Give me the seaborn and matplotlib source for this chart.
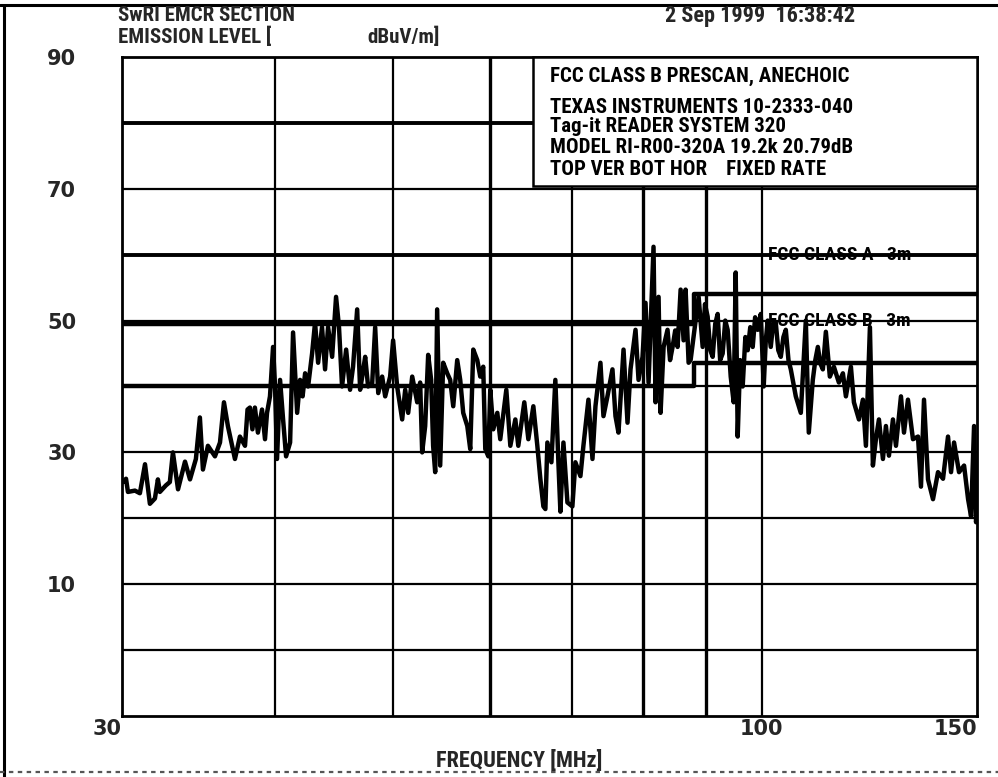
import matplotlib
matplotlib.use("Agg")
import matplotlib.pyplot as plt
from matplotlib import font_manager as fm
from matplotlib.patches import Rectangle
from matplotlib.lines import Line2D
import seaborn as sns

# ---- measured emission sweep (MHz, dBuV/m) ----
freq_mhz = [
    30.06, 30.23, 30.34, 30.74, 31.03, 31.33, 31.62, 31.92, 32.10, 32.22,
    32.59, 32.83, 33.02, 33.34, 33.78, 34.10, 34.48, 34.74, 34.94, 35.27,
    35.74, 36.08, 36.35, 36.62, 37.11, 37.46, 37.82, 38.00, 38.17, 38.35,
    38.53, 38.75, 39.05, 39.27, 39.42, 39.64, 39.87, 40.02, 40.17, 40.40,
    40.63, 40.86, 41.17, 41.40, 41.72, 41.95, 42.15, 42.35, 42.59, 42.91,
    43.15, 43.40, 43.72, 43.97, 44.22, 44.56, 44.89, 45.14, 45.40, 45.75,
    46.09, 46.35, 46.71, 46.97, 47.20, 47.42, 47.68, 48.05, 48.32, 48.60,
    48.96, 49.24, 49.70, 49.98, 50.36, 50.84, 51.13, 51.42, 51.81, 52.30,
    52.59, 52.79, 53.09, 53.39, 53.69, 53.89, 54.10, 54.30, 54.61, 54.92,
    55.34, 55.65, 55.97, 56.39, 56.71, 57.03, 57.47, 57.79, 58.12, 58.56,
    58.89, 59.22, 59.45, 59.79, 60.01, 60.35, 60.81, 61.15, 61.85, 62.32,
    62.91, 63.26, 63.98, 64.47, 65.08, 65.57, 65.94, 66.32, 66.57, 66.82,
    67.33, 67.83, 68.22, 68.48, 68.87, 69.39, 70.04, 70.44, 71.11, 71.51,
    72.19, 72.74, 73.15, 73.84, 74.26, 74.82, 75.53, 75.96, 76.39, 77.12,
    77.70, 78.14, 78.88, 79.33, 79.93, 80.38, 80.84, 81.60, 81.91, 82.38,
    82.69, 83.16, 83.78, 84.18, 84.58, 85.00, 85.38, 85.87, 86.35, 86.68,
    87.17, 87.50, 88.33, 88.83, 89.51, 89.90, 90.35, 90.80, 91.21, 91.65,
    92.07, 92.50, 92.94, 93.40, 93.82, 94.36, 94.89, 95.25, 95.61, 96.05,
    96.51, 97.00, 97.43, 97.90, 98.35, 98.80, 99.28, 99.85, 100.41, 100.80,
    101.17, 101.75, 102.20, 102.71, 103.20, 103.69, 104.20, 104.67, 105.20, 105.66,
    106.66, 107.67, 108.69, 109.30, 110.13, 110.65, 111.18, 111.70, 112.23, 112.87,
    113.72, 114.59, 115.67, 116.55, 117.21, 118.32, 118.99, 120.12, 121.02, 121.71,
    122.63, 123.32, 124.02, 124.73, 125.67, 126.38, 127.10, 128.06, 128.79, 130.01,
    130.75, 131.73, 132.98, 134.25, 135.00, 135.77, 136.80, 138.09, 139.40, 140.72,
    142.05, 142.86, 143.67, 145.03, 146.41, 147.52, 148.35, 149.19, 149.75, 150.00,
]
level_dbuv = [
    25.5, 26.0, 24.0, 24.2, 23.8, 28.2, 22.2, 23.0, 25.9, 24.0,
    25.0, 25.5, 30.0, 24.4, 28.6, 25.9, 29.0, 35.3, 27.4, 31.0,
    29.4, 31.5, 37.6, 34.0, 29.0, 32.4, 31.0, 36.5, 36.8, 33.5,
    36.8, 33.0, 36.5, 32.0, 36.0, 38.5, 46.0, 40.0, 29.0, 41.0,
    35.0, 29.4, 31.5, 48.2, 36.0, 41.0, 38.5, 42.0, 40.0, 45.0,
    49.7, 43.6, 49.0, 42.6, 49.0, 44.5, 53.6, 49.0, 40.0, 45.6,
    39.5, 43.0, 51.7, 39.5, 42.0, 44.5, 40.0, 40.5, 49.0, 39.0,
    41.5, 38.5, 41.5, 47.0, 40.0, 35.0, 39.5, 36.0, 41.5, 37.6,
    40.6, 30.0, 34.0, 44.8, 41.0, 31.0, 27.0, 51.7, 28.0, 43.6,
    42.0, 41.0, 37.0, 44.0, 41.0, 36.0, 34.0, 30.5, 45.6, 44.0,
    41.5, 43.0, 30.5, 29.4, 39.5, 33.5, 36.0, 32.0, 39.5, 31.0,
    35.0, 31.0, 37.6, 32.0, 37.0, 31.0, 26.0, 21.8, 21.4, 31.5,
    28.5, 41.0, 28.5, 21.0, 31.5, 22.4, 21.8, 28.5, 26.4, 31.0,
    38.0, 29.0, 37.0, 43.6, 35.5, 38.5, 42.6, 35.5, 33.0, 45.6,
    34.5, 42.6, 48.6, 41.0, 44.5, 52.7, 40.6, 61.2, 37.6, 53.6,
    36.0, 46.0, 48.6, 44.0, 46.0, 48.5, 46.0, 54.7, 47.0, 54.7,
    43.6, 44.0, 50.0, 53.6, 46.0, 52.5, 50.6, 45.5, 44.5, 49.5,
    51.0, 44.0, 45.0, 50.0, 48.6, 41.5, 37.6, 57.3, 32.4, 44.0,
    40.0, 47.5, 45.5, 49.0, 46.0, 50.5, 48.6, 51.0, 40.0, 47.0,
    50.0, 46.0, 49.5, 49.7, 45.5, 44.5, 47.5, 48.6, 44.0, 42.6,
    38.5, 36.0, 50.0, 33.0, 41.0, 44.0, 46.0, 43.5, 42.6, 48.3,
    41.5, 43.0, 40.6, 42.0, 38.5, 43.0, 37.6, 35.0, 38.0, 31.0,
    49.0, 28.0, 32.0, 35.0, 29.0, 34.0, 29.5, 35.0, 31.0, 38.5,
    33.0, 38.0, 32.0, 32.4, 24.8, 38.0, 25.9, 22.9, 27.0, 26.0,
    32.4, 27.0, 31.5, 27.0, 28.0, 22.9, 20.3, 34.0, 19.4, 21.0,
]

# ---- FCC 3 m radiated limits ----
limit_freq = [30, 88, 150]
class_a_3m = [49.5, 54.0, 54.0]
class_b_3m = [40.0, 43.5, 43.5]

# ---- axis description ----
x_ticks = [30, 100, 150]
x_tick_labels = ["30", "100", "150"]
x_grid = [40, 50, 60, 70, 80, 90, 100]
y_ticks = [90, 70, 50, 30, 10]
y_grid = [80, 70, 60, 50, 40, 30, 20, 10, 0]

header_left = ["SwRI EMCR SECTION", "EMISSION LEVEL [", "dBuV/m]"]
header_date = "2 Sep 1999  16:38:42"
info_lines = [
    "FCC CLASS B PRESCAN, ANECHOIC",
    "TEXAS INSTRUMENTS 10-2333-040",
    "Tag-it READER SYSTEM 320",
    "MODEL RI-R00-320A 19.2k 20.79dB",
    "TOP VER BOT HOR    FIXED RATE",
]
limit_labels = ["FCC CLASS A   3m", "FCC CLASS B   3m"]
x_label = "FREQUENCY [MHz]"

sns.set_theme(style="white")


def pick_font(*names):
    available = {f.name for f in fm.fontManager.ttflist}
    for name in names:
        if name in available:
            return name
    return "DejaVu Sans"


NARROW = pick_font("Liberation Sans Narrow", "Roboto Condensed", "DejaVu Sans")
plt.rcParams["font.family"] = [NARROW, "DejaVu Sans"]

fig = plt.figure(figsize=(9.98, 7.77), dpi=100)
ax = fig.add_axes([0.1222, 0.0785, 0.8567, 0.8482])
ax.set_xscale("log")
ax.set_xlim(30, 150)
ax.set_ylim(-10, 90)

# grid, drawn by hand so individual lines can carry their own weight
for f in x_grid:
    lw = 2.4 if f in (60, 80, 90) else 1.6
    ax.axvline(f, color="black", lw=lw, zorder=1)
for v in y_grid:
    lw = 2.8 if v in (80, 60) else 1.6
    ax.axhline(v, color="black", lw=lw, zorder=1)

# limit lines
sns.lineplot(x=limit_freq, y=class_a_3m, ax=ax, color="black", lw=3.2,
             drawstyle="steps-post", estimator=None, zorder=2)
sns.lineplot(x=limit_freq, y=class_b_3m, ax=ax, color="black", lw=3.2,
             drawstyle="steps-post", estimator=None, zorder=2)

# emission trace
sns.lineplot(x=freq_mhz, y=level_dbuv, ax=ax, color="black", lw=3.2,
             estimator=None, sort=False, zorder=3)

# limit annotations
for lab, yv in zip(limit_labels, (60, 50)):
    ax.text(0.756, yv, lab, transform=ax.get_yaxis_transform(),
            ha="left", va="center", fontsize=14, fontweight="bold",
            color="black", zorder=4)

# description block in the upper right
box_left = 65.0
ax.add_patch(Rectangle((box_left, 70.4), 150 - box_left, 19.6,
                       facecolor="white", edgecolor="black", lw=1.8,
                       zorder=6, clip_on=False))
for txt, yy in zip(info_lines, (0.971, 0.924, 0.894, 0.862, 0.8285)):
    ax.text(0.5006, yy, txt, transform=ax.transAxes, ha="left", va="center",
            fontsize=15, fontweight="bold", color="black", zorder=7)

# axes frame and ticks
for sp in ax.spines.values():
    sp.set_visible(True)
    sp.set_color("black")
    sp.set_linewidth(2.0)
ax.set_xticks(x_ticks)
ax.set_xticklabels(x_tick_labels)
ax.xaxis.set_minor_locator(matplotlib.ticker.NullLocator())
ax.set_yticks(y_ticks)
ax.set_yticklabels([str(t) for t in y_ticks])
ax.tick_params(axis="x", length=0, pad=2, labelsize=15)
ax.tick_params(axis="y", length=0, pad=33, labelsize=15)
for t in ax.get_xticklabels() + ax.get_yticklabels():
    t.set_fontfamily(["DejaVu Sans"])
    t.set_fontweight("bold")
xt = ax.get_xticklabels()
xt[0].set_ha("right")
xt[-1].set_ha("right")
ax.set_xlabel("")
ax.set_ylabel("")

# header lines
fig.text(0.118, 0.9795, header_left[0], ha="left", va="center",
         fontsize=15, fontweight="bold")
fig.text(0.118, 0.9525, header_left[1], ha="left", va="center",
         fontsize=15, fontweight="bold")
fig.text(0.3677, 0.9525, header_left[2], ha="left", va="center",
         fontsize=15, fontweight="bold")
fig.text(0.666, 0.979, header_date, ha="left", va="center",
         fontsize=16, fontweight="bold")
fig.text(0.52, 0.0205, x_label, ha="center", va="center",
         fontsize=16, fontweight="bold")

# outer page frame
fig.add_artist(Line2D([0.0, 1.0], [0.9936, 0.9936], transform=fig.transFigure,
                      color="black", lw=2.2))
fig.add_artist(Line2D([0.004, 0.004], [0.0, 0.9936], transform=fig.transFigure,
                      color="black", lw=2.2))
fig.add_artist(Line2D([0.0, 1.0], [0.0064, 0.0064], transform=fig.transFigure,
                      color="#555555", lw=1.6, ls=(0, (2, 2))))

fig.savefig("out.png", dpi=100, facecolor="white")
